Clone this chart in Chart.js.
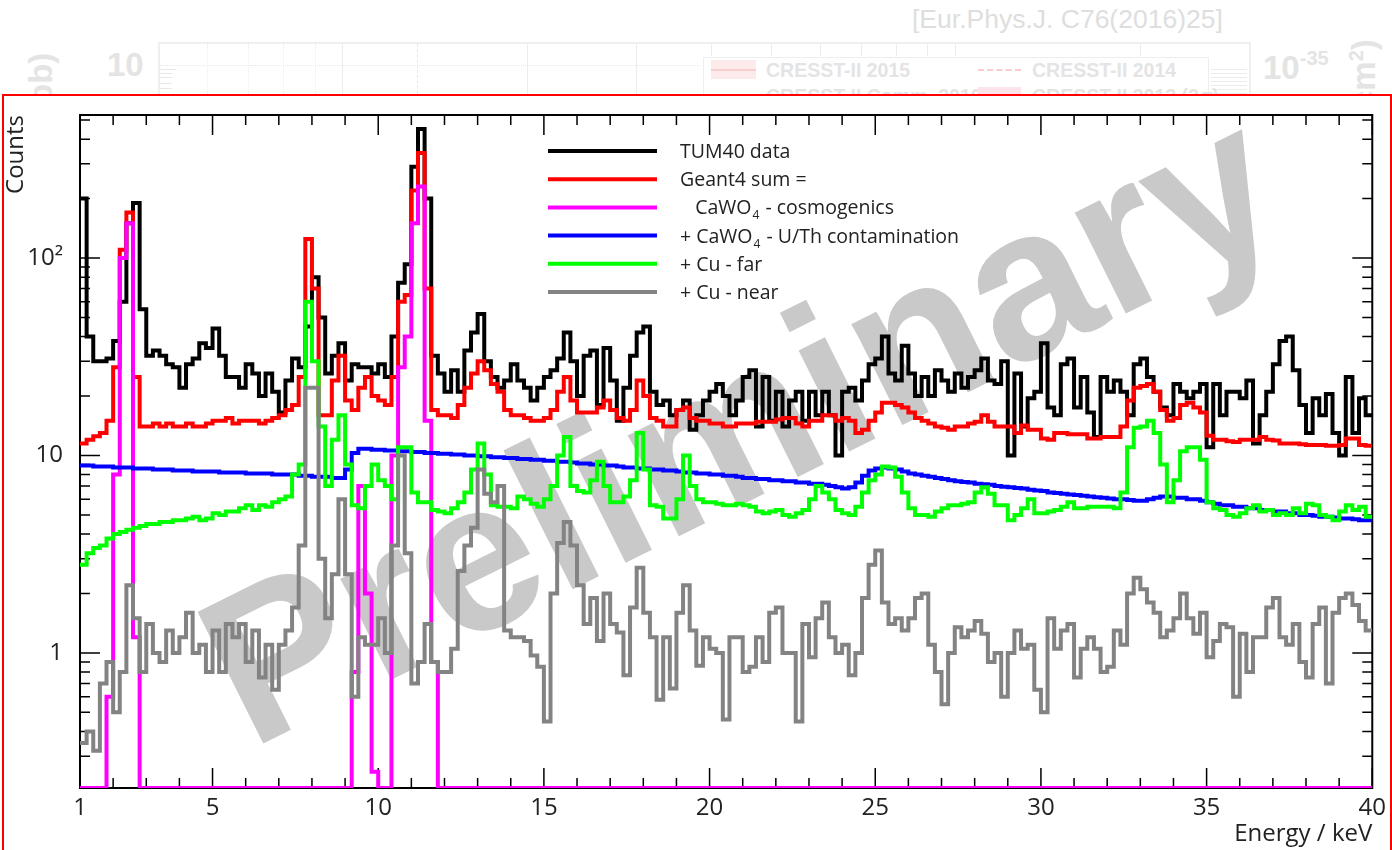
<!DOCTYPE html>
<html>
<head>
<meta charset="utf-8">
<title>TUM40 background spectrum</title>
<script src="https://cdn.jsdelivr.net/npm/chart.js@4.4.1/dist/chart.umd.min.js"></script>
<style>
  html, body { margin: 0; padding: 0; background: #fff; }
  body { width: 1392px; height: 850px; position: relative; overflow: hidden;
         font-family: "Liberation Sans", Arial, sans-serif; }
  /* faded figure peeking out above the panel */
  .old { position: absolute; white-space: nowrap; line-height: 1; color: #e4e4e4; }
  .oldb { font-weight: bold; }
  .otick { position: absolute; width: 0; border-left: 1.5px solid #ececec; }
  #panel { position: absolute; left: 2px; top: 94px; width: 1386px; height: 800px;
           border: 2px solid #ff0000; background: #fff; }
  #chart { position: absolute; left: 0; top: 0; }
</style>
</head>
<body>
<div class="old" style="left:912px;top:6px;font-size:26.5px;color:#dedede;">[Eur.Phys.J. C76(2016)25]</div>
<div style="position:absolute;left:158px;top:42px;width:1089px;height:120px;border:2px solid #efefef;"></div>
<div style="position:absolute;left:160px;top:65px;width:540px;border-top:1px dotted #e6e6e6;"></div>
<div class="otick" style="left:207px;top:44px;height:60px;border-left-style:dotted;"></div>
<div class="otick" style="left:248px;top:44px;height:60px;border-left-style:dotted;"></div>
<div class="otick" style="left:283px;top:44px;height:60px;border-left-style:dotted;"></div>
<div class="otick" style="left:315px;top:44px;height:60px;border-left-style:dotted;"></div>
<div class="otick" style="left:342px;top:44px;height:60px;"></div>
<div class="otick" style="left:527px;top:44px;height:60px;"></div>
<div class="otick" style="left:636px;top:44px;height:60px;"></div>
<div class="otick" style="left:711px;top:44px;height:12px;"></div>
<div class="otick" style="left:771px;top:44px;height:12px;"></div>
<div class="otick" style="left:820px;top:44px;height:12px;"></div>
<div class="otick" style="left:861px;top:44px;height:12px;"></div>
<div class="otick" style="left:896px;top:44px;height:12px;"></div>
<div class="otick" style="left:927px;top:44px;height:12px;"></div>
<div class="otick" style="left:955px;top:44px;height:12px;"></div>
<div class="otick" style="left:1140px;top:44px;height:12px;"></div>
<div style="position:absolute;left:417px;top:44px;height:60px;border-left:1.5px dashed #d6f2d6;"></div>
<div style="position:absolute;left:160px;top:69px;width:16px;border-top:1px solid #e8e8e8;"></div>
<div style="position:absolute;left:160px;top:73px;width:12px;border-top:1px solid #e8e8e8;"></div>
<div style="position:absolute;left:160px;top:77px;width:12px;border-top:1px solid #e8e8e8;"></div>
<div style="position:absolute;left:160px;top:83px;width:12px;border-top:1px solid #e8e8e8;"></div>
<div style="position:absolute;left:160px;top:88px;width:12px;border-top:1px solid #e8e8e8;"></div>
<div style="position:absolute;left:1211px;top:66px;width:36px;height:28px;background:repeating-linear-gradient(#fff 0 3px,#ececec 3px 4px);"></div>
<div class="old oldb" style="left:107px;top:48px;font-size:33px;">10</div>
<div class="old oldb" style="left:24px;top:40px;font-size:33px;transform-origin:0 0;transform:translate(0,75px) rotate(-90deg);">(pb)</div>
<div class="old oldb" style="left:1263px;top:48px;font-size:33px;">10<sup style="font-size:20px;vertical-align:14px;">-35</sup></div>
<div class="old oldb" style="left:1346px;top:30px;font-size:33px;transform-origin:0 0;transform:translate(0,90px) rotate(-90deg);">(cm<sup style="font-size:20px;">2</sup>)</div>
<div style="position:absolute;left:703px;top:57px;width:504px;height:80px;border:1.5px solid #eeeeee;background:#fff;"></div>
<div style="position:absolute;left:711px;top:60px;width:45px;height:19px;background:#fdeaea;"></div>
<div style="position:absolute;left:711px;top:69px;width:45px;border-top:2px solid #f8cdcd;"></div>
<div class="old oldb" style="left:766px;top:61px;font-size:19.5px;">CRESST-II 2015</div>
<div style="position:absolute;left:978px;top:69px;width:43px;border-top:2px dashed #f6cccc;"></div>
<div class="old oldb" style="left:1032px;top:61px;font-size:19.5px;">CRESST-II 2014</div>
<div class="old oldb" style="left:766px;top:87px;font-size:19.5px;">CRESST-II Comm. 2010</div>
<div style="position:absolute;left:978px;top:87px;width:43px;height:19px;background:#fbe4ea;"></div>
<div class="old oldb" style="left:1032px;top:87px;font-size:19.5px;">CRESST-II 2012 (2&sigma;)</div>

<div id="panel"></div>
<canvas id="chart" width="1392" height="850"></canvas>

<script>
// Energy binning of the histograms (0.2 keV bins from 1 to 40 keV)
const E_MIN = 1;
const E_MAX = 40;
const BIN_W = 0.2;

// counts per bin
const tum40Data = [
  // 1.0 - 7.6 keV
  200, 40, 30, 30, 31, 38, 60, 150, 190, 55, 32, 34, 32, 29, 28, 22, 29, 31, 37, 35,
  44, 32, 25, 25, 22, 29, 26, 20, 26, 21, 16.5, 24, 31,
  // 7.6 - 14.2 keV
  28, 45, 80, 50, 26, 32, 37, 24, 29, 28, 28, 26, 29, 25, 40, 75, 93, 290, 450, 200,
  32, 26, 21, 27, 21, 34, 42, 52, 30, 25, 22, 24, 29,
  // 14.2 - 20.8 keV
  24, 22, 19, 22, 25, 27, 31, 42, 30, 20, 32, 34, 18, 35, 24, 15, 22, 32, 42, 45,
  21, 18, 19, 16, 17, 19, 13.5, 16, 19, 21, 23, 20, 16,
  // 20.8 - 27.4 keV
  19, 25, 27, 14, 25, 15, 21, 14, 19, 21, 15, 21, 16, 21, 16, 10, 21, 22, 19, 24,
  29, 31, 40, 26, 24, 36, 26, 20, 25, 20, 27, 24, 21,
  // 27.4 - 34.0 keV
  26, 22, 25, 27, 31, 24, 23, 30, 10, 26, 14, 19.5, 21, 37, 17.5, 16, 29, 31, 17.5, 25,
  16.5, 12.4, 25, 21, 24, 21, 16, 29, 31, 25, 21, 17.5, 16,
  // 34.0 - 40.0 keV
  23, 21, 19.5, 21, 23, 11, 23, 16, 21, 21, 19.5, 24, 11.5, 16, 21, 29, 38, 40, 27, 18,
  13, 19.5, 16, 20.5, 13, 10, 25, 13, 19.5, 16
];

const geant4Sum = [
  11.5, 12, 12.5, 13, 15, 28, 110, 170, 25, 14, 14, 14.5, 14, 14.5, 14, 14, 14.5, 14, 14, 14.5,
  15, 15, 15.5, 14.5, 15, 15, 15, 14.5, 15, 15.5, 16, 17, 18,
  25, 125, 70, 16, 16, 24, 32, 19, 17, 22, 25, 20, 19, 18, 25, 60, 65, 220, 340, 70,
  17, 16, 16, 15.5, 18, 22, 26, 30, 27, 23, 21, 17, 16,
  16, 15.5, 15, 15, 15.5, 17, 21, 25, 19, 16.5, 16.5, 16.5, 17.5, 19, 17, 15.5, 15, 17, 24, 20,
  15.5, 15, 14, 14, 17, 17.5, 15.5, 15, 15, 14.5, 14.5, 14, 14,
  14.5, 14.5, 14.5, 14.8, 14.8, 14.8, 15.2, 15.5, 15.5, 14.5, 14, 15, 15, 16, 16, 15, 15.5, 15, 13, 13.5,
  15, 16.5, 18.5, 18.5, 18, 17.5, 16.5, 15.5, 15, 14.5, 14, 13.8, 13.5,
  14, 14, 14.5, 14.8, 16, 14.8, 14, 14, 14, 13, 14.2, 13.5, 13.5, 12.2, 12, 13, 13, 12.8, 12.8, 12.8,
  12.2, 12.2, 12.4, 12.4, 12.4, 14, 19, 22, 22.5, 23, 21, 17, 15,
  15.5, 18, 18.5, 17.5, 16.5, 12.6, 12, 12, 11.8, 11.7, 12, 12, 12, 12.4, 12, 11.9, 11.5, 11.5, 11.5, 11.4,
  11.3, 11.3, 11.3, 11.2, 11.2, 11.3, 12.2, 12.2, 11.3, 11.2
];

const cosmogenics = [
  0, 0, 0, 0, 0.6, 8, 100, 150, 1.2, 0, 0, 0, 0, 0, 0, 0, 0, 0, 0, 0,
  0, 0, 0, 0, 0, 0, 0, 0, 0, 0, 0, 0, 0,
  0, 0, 0, 0, 0, 0, 0, 0, 0.8, 7, 2, 0.25, 0, 0, 10, 28, 40, 150, 230, 15,
  0.9, 0, 0, 0, 0, 0, 0, 0, 0, 0, 0, 0, 0,
  0, 0, 0, 0, 0, 0, 0, 0, 0, 0, 0, 0, 0, 0, 0, 0, 0, 0, 0, 0,
  0, 0, 0, 0, 0, 0, 0, 0, 0, 0, 0, 0, 0,
  0, 0, 0, 0, 0, 0, 0, 0, 0, 0, 0, 0, 0, 0, 0, 0, 0, 0, 0, 0,
  0, 0, 0, 0, 0, 0, 0, 0, 0, 0, 0, 0, 0,
  0, 0, 0, 0, 0, 0, 0, 0, 0, 0, 0, 0, 0, 0, 0, 0, 0, 0, 0, 0,
  0, 0, 0, 0, 0, 0, 0, 0, 0, 0, 0, 0, 0,
  0, 0, 0, 0, 0, 0, 0, 0, 0, 0, 0, 0, 0, 0, 0, 0, 0, 0, 0, 0,
  0, 0, 0, 0, 0, 0, 0, 0, 0, 0
];

const uThContamination = [
  8.9, 8.9, 8.8, 8.8, 8.8, 8.7, 8.7, 8.7, 8.6, 8.6, 8.6, 8.5, 8.5, 8.5, 8.4, 8.4, 8.4, 8.3, 8.3, 8.3,
  8.3, 8.2, 8.2, 8.2, 8.2, 8.1, 8.1, 8.1, 8.1, 8.0, 8.0, 8.0, 8.0,
  7.9, 7.9, 7.8, 7.8, 7.8, 7.7, 7.7, 8.5, 10.3, 10.8, 10.8, 10.7, 10.7, 10.6, 10.6, 10.5, 10.5, 10.4, 10.4, 10.3,
  10.3, 10.2, 10.2, 10.1, 10.1, 10.0, 10.0, 9.9, 9.9, 9.8, 9.8, 9.7, 9.7,
  9.6, 9.6, 9.5, 9.5, 9.4, 9.4, 9.3, 9.3, 9.2, 9.1, 9.1, 9.0, 9.0, 8.9, 8.9, 8.8, 8.7, 8.7, 8.6, 8.6,
  8.5, 8.5, 8.4, 8.4, 8.3, 8.2, 8.2, 8.1, 8.1, 8.0, 8.0, 7.9, 7.9,
  7.8, 7.7, 7.7, 7.6, 7.6, 7.5, 7.5, 7.4, 7.4, 7.3, 7.3, 7.2, 7.2, 7.1, 7.0, 6.9, 6.8, 6.9, 7.3, 7.9,
  8.4, 8.6, 8.7, 8.6, 8.5, 8.3, 8.1, 8.0, 7.9, 7.8, 7.7, 7.6, 7.5,
  7.4, 7.35, 7.3, 7.2, 7.15, 7.1, 7.0, 6.95, 6.9, 6.85, 6.8, 6.7, 6.65, 6.6, 6.5, 6.45, 6.4, 6.35, 6.3, 6.25,
  6.2, 6.15, 6.1, 6.05, 6.0, 6.0, 5.95, 5.9, 5.9, 6.0, 6.1, 6.2, 6.2,
  6.1, 6.1, 6.0, 6.0, 5.9, 5.8, 5.7, 5.6, 5.6, 5.5, 5.5, 5.4, 5.4, 5.3, 5.3, 5.2, 5.2, 5.1, 5.1, 5.0,
  5.0, 4.95, 4.9, 4.9, 4.85, 4.8, 4.8, 4.75, 4.7, 4.7
];

const cuFar = [
  2.8, 3.2, 3.4, 3.5, 3.8, 4.0, 4.1, 4.2, 4.3, 4.4, 4.5, 4.5, 4.6, 4.6, 4.7, 4.7, 4.8, 4.9, 4.7, 4.8,
  5.1, 5.0, 5.2, 5.2, 5.4, 5.6, 5.3, 5.6, 5.5, 5.8, 6.0, 6.2, 8.0,
  9, 60, 30, 14, 7, 12, 16, 9, 5.6, 5.4, 7, 9, 7.5, 7, 6, 11, 11, 6.5, 5.8, 5.8,
  5.3, 5.2, 5.1, 5.4, 5.8, 6.5, 8.5, 11.5, 8, 5.6, 5.5, 5.5, 5.4,
  6.2, 6, 5.7, 5.5, 6, 7, 10, 12.4, 7, 6.6, 6.5, 7.5, 9.3, 7, 5.8, 5.8, 6.2, 7.5, 13, 8.5,
  5.6, 5.5, 4.8, 4.8, 6, 10, 7, 6, 5.8, 5.8, 5.7, 5.6, 5.6,
  5.7, 5.6, 5.5, 5.2, 5.1, 5.2, 5.3, 5.0, 4.9, 5.1, 5.3, 6.0, 7.0, 6.5, 6.0, 5.3, 5.1, 5.0, 5.5, 6.5,
  7.5, 8.0, 8.8, 8.7, 7.8, 6.5, 5.4, 5.0, 5.0, 4.9, 5.2, 5.4, 5.6,
  5.6, 5.7, 5.8, 6.5, 6.9, 6.4, 5.6, 5.6, 4.7, 5.0, 5.4, 6.0, 5.1, 5.1, 5.2, 5.3, 5.5, 5.8, 5.4, 5.4,
  5.5, 5.5, 5.5, 5.5, 5.4, 6.5, 11, 13.8, 14, 15, 13, 9, 5.8,
  7.5, 10.5, 11, 11, 9.5, 5.8, 5.4, 5.3, 5.0, 4.9, 5.1, 5.4, 5.6, 5.2, 5.3, 5.0, 5.1, 5.0, 5.4, 5.1,
  5.7, 5.6, 5.0, 4.9, 4.7, 5.2, 5.6, 5.3, 5.5, 4.9
];

const cuNear = [
  0.35, 0.4, 0.32, 0.7, 0.9, 0.5, 0.8, 2.2, 1.5, 0.8, 1.4, 1.0, 0.9, 1.3, 1.0, 1.2, 1.6, 1.0, 1.1, 0.8,
  1.3, 0.8, 1.4, 1.2, 1.4, 0.9, 1.3, 0.75, 1.1, 0.65, 1.1, 1.3, 1.7,
  3.5, 22, 22, 3, 1.5, 2.5, 6, 2.5, 0.6, 1.2, 1.1, 1.1, 1.5, 1.0, 3.5, 10, 3.2, 0.7, 0.9, 1.4,
  0.9, 0.8, 0.8, 1.05, 2.6, 3.5, 4.3, 8.5, 6.4, 5.8, 7, 1.3, 1.2,
  1.2, 1.15, 0.97, 0.85, 0.45, 2.0, 3.6, 4.6, 3.5, 2.2, 1.4, 1.9, 1.15, 2.0, 1.4, 1.27, 0.77, 1.7, 2.7, 1.6,
  1.2, 0.58, 1.2, 0.66, 1.6, 2.2, 1.3, 0.86, 1.2, 1.05, 1.0, 0.46, 1.2,
  1.2, 0.8, 0.85, 1.2, 0.9, 1.6, 1.7, 1.0, 1.0, 0.45, 1.4, 0.95, 1.5, 1.8, 1.2, 1.0, 1.1, 0.77, 1.0, 1.9,
  2.8, 3.3, 1.8, 1.4, 1.5, 1.3, 1.5, 1.9, 2.0, 1.1, 0.8, 0.55, 1.0,
  1.35, 1.2, 1.3, 1.45, 1.25, 0.9, 1.0, 0.6, 1.0, 1.3, 1.05, 1.1, 0.65, 0.5, 1.5, 1.05, 1.3, 1.4, 0.75, 1.05,
  1.2, 1.05, 0.8, 0.85, 1.3, 1.1, 2.0, 2.4, 2.1, 1.8, 1.6, 1.2, 1.3,
  1.5, 2.0, 1.5, 1.25, 1.6, 0.95, 1.15, 1.4, 1.35, 0.6, 1.25, 0.8, 1.2, 1.2, 1.7, 1.9, 1.2, 1.1, 1.4, 0.9,
  0.75, 1.4, 1.7, 0.7, 1.6, 1.9, 2.0, 1.75, 1.45, 1.3
];

const seriesLabels = [
  'TUM40 data',
  'Geant4 sum =',
  '   CaWO_4 - cosmogenics',
  '+ CaWO_4 - U/Th contamination',
  '+ Cu - far',
  '+ Cu - near'
];

const xTickValues = [1, 5, 10, 15, 20, 25, 30, 35, 40];
const yTickValues = [1, 10, 100];
const yTickLabels = ['1', '10', '10\u00b2'];

// axis range
const Y_MIN = 0.207;
const Y_MAX = 530;

const FONT = '"Open Sans", "Noto Sans", sans-serif';
const TEXT_COLOR = '#222';

/**
 * Turn per-bin counts into step points at the bin low edges,
 * plus a closing point at the upper end. Empty bins sit on the axis floor.
 */
function histPoints(counts) {
  const pts = counts.map((c, i) => ({ x: E_MIN + i * BIN_W, y: c > 0 ? c : Y_MIN }));
  pts.push({ x: E_MAX, y: pts[pts.length - 1].y });
  return pts;
}

function histDataset(label, counts, color, order) {
  return {
    label,
    data: histPoints(counts),
    borderColor: color,
    backgroundColor: color,
    borderWidth: 4,
    stepped: 'before',
    pointRadius: 0,
    fill: false,
    order,
    borderJoinStyle: 'miter',
    borderCapStyle: 'butt',
  };
}

// big grey "Preliminary" stamp behind the histograms
const watermarkPlugin = {
  id: 'watermark',
  beforeDatasetsDraw(chart) {
    const { ctx } = chart;
    ctx.save();
    ctx.translate(772, 490);
    ctx.rotate(-26.5 * Math.PI / 180);
    ctx.font = 'bold 214px "Liberation Sans", Arial, sans-serif';
    ctx.fillStyle = '#c9c9c9';
    ctx.textAlign = 'center';
    ctx.textBaseline = 'alphabetic';
    ctx.fillText('Preliminary', 0, 0);
    ctx.restore();
  },
};

// ROOT-style frame with inward ticks on all four sides
const framePlugin = {
  id: 'rootFrame',
  beforeDatasetsDraw(chart) {
    const { ctx, chartArea: a, scales: { x, y } } = chart;
    ctx.save();
    ctx.strokeStyle = '#000';
    ctx.lineWidth = 1.5;
    ctx.beginPath();
    for (let e = Math.ceil(x.min); e <= x.max; e++) {
      const px = x.getPixelForValue(e);
      const len = e % 5 === 0 ? 20 : 10;
      ctx.moveTo(px, a.bottom); ctx.lineTo(px, a.bottom - len);
      ctx.moveTo(px, a.top); ctx.lineTo(px, a.top + len);
    }
    for (let d = -1; d <= 2; d++) {
      for (let m = 1; m <= 9; m++) {
        const v = m * Math.pow(10, d);
        if (v < y.min || v > y.max) continue;
        const py = y.getPixelForValue(v);
        const len = m === 1 ? 20 : 10;
        ctx.moveTo(a.left, py); ctx.lineTo(a.left + len, py);
        ctx.moveTo(a.right, py); ctx.lineTo(a.right - len, py);
      }
    }
    ctx.stroke();
    ctx.lineWidth = 2;
    ctx.strokeRect(a.left, a.top, a.right - a.left, a.bottom - a.top);
    ctx.restore();
  },
};

// legend drawn inside the frame, text with "_4" rendered as a subscript
const legendPlugin = {
  id: 'insideLegend',
  afterDatasetsDraw(chart) {
    const { ctx } = chart;
    const x0 = 548, x1 = 657, tx = 680, y0 = 151, dy = 28.2;
    ctx.save();
    chart.data.datasets.forEach((ds, i) => {
      const yy = y0 + i * dy;
      ctx.strokeStyle = ds.borderColor;
      ctx.lineWidth = 4;
      ctx.beginPath();
      ctx.moveTo(x0, yy);
      ctx.lineTo(x1, yy);
      ctx.stroke();

      ctx.fillStyle = TEXT_COLOR;
      ctx.textAlign = 'left';
      ctx.textBaseline = 'alphabetic';
      let cx = tx;
      const base = yy + 7;
      ds.label.split(/(_\d)/).forEach(part => {
        if (part.startsWith('_')) {
          ctx.font = '12px ' + FONT;
          ctx.fillText(part.slice(1), cx + 1, base + 5);
          cx += ctx.measureText(part.slice(1)).width + 2;
        } else {
          ctx.font = '19.5px ' + FONT;
          ctx.fillText(part, cx, base);
          cx += ctx.measureText(part).width;
        }
      });
    });
    ctx.restore();
  },
};

Chart.defaults.font.family = FONT;
Chart.defaults.color = TEXT_COLOR;

new Chart(document.getElementById('chart'), {
  type: 'line',
  data: {
    datasets: [
      histDataset(seriesLabels[0], tum40Data, '#000000', 6),
      histDataset(seriesLabels[1], geant4Sum, '#ff0000', 5),
      histDataset(seriesLabels[2], cosmogenics, '#ff00ff', 4),
      histDataset(seriesLabels[3], uThContamination, '#0000ff', 3),
      histDataset(seriesLabels[4], cuFar, '#00ff00', 2),
      histDataset(seriesLabels[5], cuNear, '#838383', 1),
    ],
  },
  options: {
    responsive: false,
    animation: false,
    events: [],
    layout: { autoPadding: false, padding: { left: 0, right: 9, top: 115, bottom: 0 } },
    plugins: { legend: { display: false }, tooltip: { enabled: false } },
    scales: {
      x: {
        type: 'linear',
        min: E_MIN,
        max: E_MAX,
        afterBuildTicks: s => { s.ticks = xTickValues.map(v => ({ value: v })); },
        afterFit: s => { s.height = 62; },
        grid: { display: false, drawTicks: false },
        border: { display: false },
        ticks: { autoSkip: false, maxRotation: 0, padding: 6, color: TEXT_COLOR, font: { size: 24 } },
        title: {
          display: true, text: 'Energy / keV', align: 'end', color: TEXT_COLOR,
          font: { size: 24 }, padding: { top: 0, bottom: 1 },
        },
      },
      y: {
        type: 'logarithmic',
        min: Y_MIN,
        max: Y_MAX,
        afterBuildTicks: s => { s.ticks = yTickValues.map(v => ({ value: v })); },
        afterFit: s => { s.width = 80; },
        grid: { display: false, drawTicks: false },
        border: { display: false },
        ticks: {
          padding: 17, color: TEXT_COLOR, font: { size: 24 },
          callback: v => yTickLabels[yTickValues.indexOf(v)] ?? '',
        },
        title: {
          display: true, text: 'Counts', align: 'end', color: TEXT_COLOR,
          font: { size: 24 }, padding: { top: 2, bottom: 0 },
        },
      },
    },
  },
  plugins: [watermarkPlugin, framePlugin, legendPlugin],
});
</script>
</body>
</html>
